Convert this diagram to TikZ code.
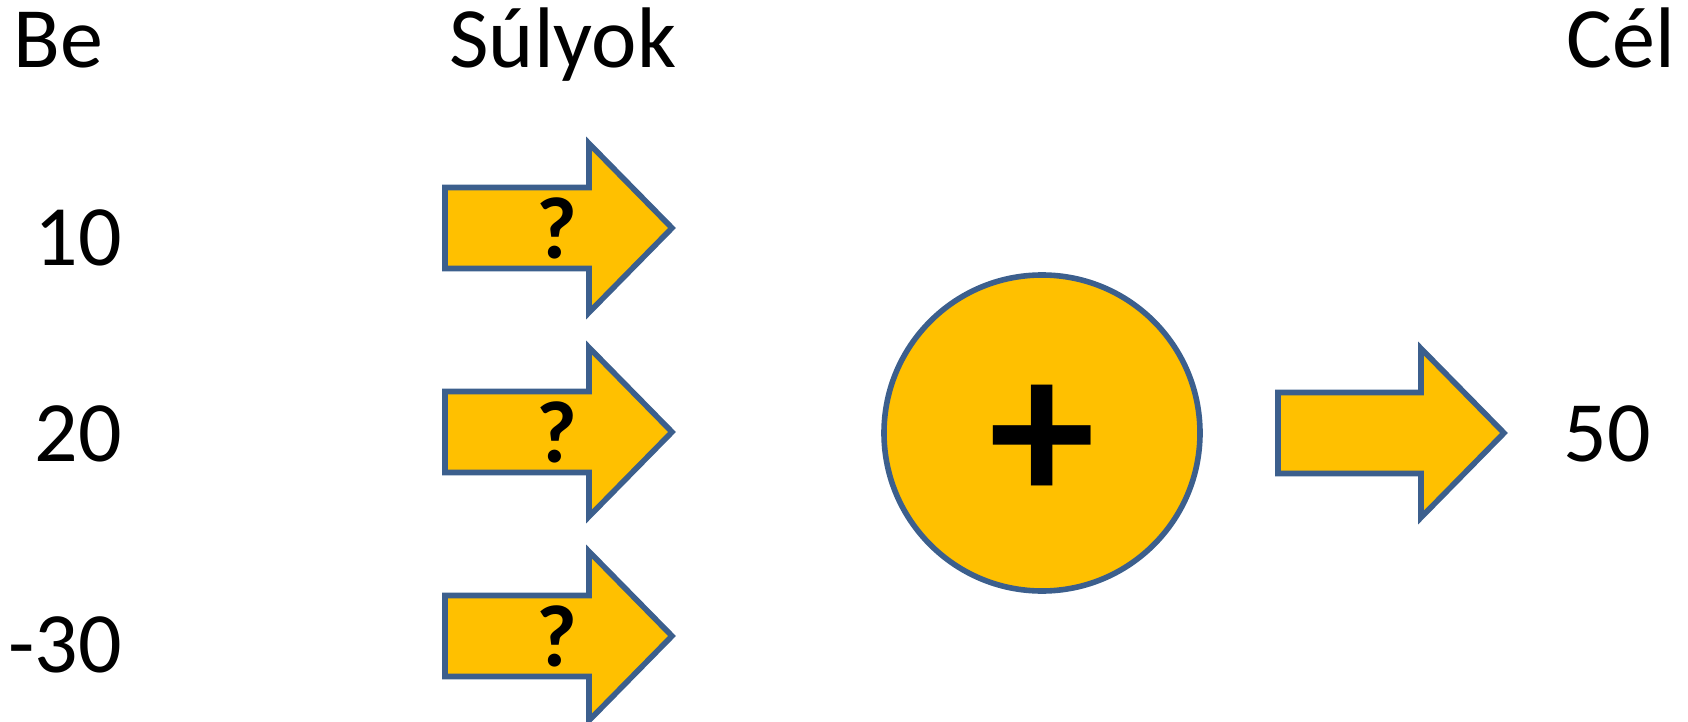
\documentclass[tikz,border=0pt]{standalone}
\usepackage{fontspec}
\setmainfont{Carlito}
\begin{document}
\begin{tikzpicture}[x=0.5pt,y=-0.5pt,
  line join=miter,
  shapefill/.style={fill=gold, draw=slateblue, line width=2.8pt},
  label/.style={inner sep=0pt, font=\fontsize{43}{51}\selectfont},
  qmark/.style={inner sep=0pt, font=\bfseries\fontsize{44}{52}\selectfont},
  plusmark/.style={inner sep=0pt, font=\bfseries\fontsize{106}{118}\selectfont}]
\definecolor{gold}{HTML}{FFC000}
\definecolor{slateblue}{HTML}{3C5F8D}
\useasboundingbox (0,0) rectangle (1688,722);

% block arrow with its left end at (#1,#2)
\newcommand{\blockarrow}[3]{%
  \draw[shapefill] (#1,#2-40.5) -- ++(144,0) -- ++(0,-44) -- ++(83,84.5)
    -- ++(-83,84.5) -- ++(0,-44) -- ++(-144,0) -- cycle;
  \node[qmark] (#3) at (#1+112,#2) {?};}

% headings
\node[label, anchor=base west] (be)  at (13,68)   {Be};
\node[label, anchor=base west] (sul) at (449,68)  {Súlyok};
\node[label, anchor=base west] (cel) at (1566,68) {Cél};

% inputs
\node[label, anchor=base east] (in1) at (122,265) {10};
\node[label, anchor=base east] (in2) at (122,461) {20};
\node[label, anchor=base east] (in3) at (122,672) {-30};

% weights
\blockarrow{445}{228}{w1}
\blockarrow{445}{432}{w2}
\blockarrow{445}{636}{w3}

% summation
\node[shapefill, circle, minimum size=158pt, inner sep=0pt] (sum) at (1042,433) {};
\node[plusmark] (plus) at (1042,444) {+};

% output
\draw[shapefill] (1278,433-40.5) -- ++(143,0) -- ++(0,-44) -- ++(83,84.5)
  -- ++(-83,84.5) -- ++(0,-44) -- ++(-143,0) -- cycle;
\node[label, anchor=base west] (target) at (1563,461) {50};
\end{tikzpicture}
\end{document}
